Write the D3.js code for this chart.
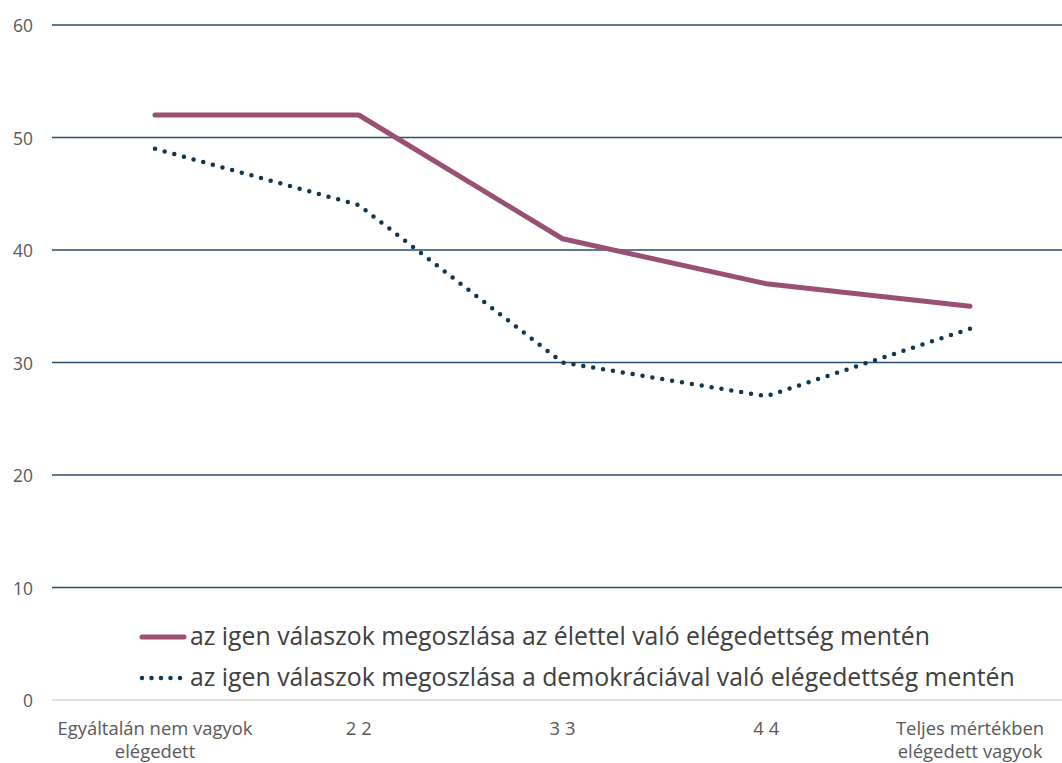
<!DOCTYPE html>
<html>
<head>
<meta charset="utf-8">
<script src="https://cdn.jsdelivr.net/npm/d3@7"></script>
<style>
  body { margin: 0; background: #fff; }
  svg { display: block; }
</style>
</head>
<body>
<svg id="chart"></svg>
<script>
const categories = ['Egyáltalán nem vagyok|elégedett', '2 2', '3 3', '4 4', 'Teljes mértékben|elégedett vagyok']
const lifeValues = [52, 52, 41, 37, 35]
const democracyValues = [49, 44, 30, 27, 33]
const seriesNames = [
    'az igen válaszok megoszlása az élettel való elégedettség mentén',
    'az igen válaszok megoszlása a demokráciával való elégedettség mentén'
]
const yTicks = [0, 10, 20, 30, 40, 50, 60]

const width = 1062
const height = 763

const svg = d3.select('#chart')
    .attr('width', width)
    .attr('height', height)

const x = d3.scalePoint()
    .domain(categories)
    .range([155, 970])

const y = d3.scaleLinear()
    .domain([0, 60])
    .range([700, 25])

// grid lines
svg.append('g')
    .selectAll('line')
    .data(yTicks)
    .enter()
    .append('line')
    .attr('x1', 52)
    .attr('x2', width)
    .attr('y1', d => y(d))
    .attr('y2', d => y(d))
    .attr('stroke', d => d === 0 ? '#d9d9d9' : '#2b4d6b')
    .attr('stroke-width', d => d === 0 ? 1.5 : 1.6)

// y tick labels
svg.append('g')
    .selectAll('text')
    .data(yTicks)
    .enter()
    .append('text')
    .attr('transform', d => 'translate(33,' + (y(d) + 7) + ') scale(0.92,1)')
    .attr('text-anchor', 'end')
    .attr('font-family', 'Open Sans')
    .attr('font-size', 19)
    .attr('fill', '#595959')
    .text(d => d)

// x labels
const xl = svg.append('g')
    .selectAll('text')
    .data(categories)
    .enter()
    .append('text')
    .attr('transform', d => 'translate(' + x(d) + ',0) scale(0.97,1)')
    .attr('text-anchor', 'middle')
    .attr('font-family', 'Open Sans')
    .attr('font-size', 19)
    .attr('fill', '#595959')
xl.selectAll('tspan')
    .data(d => d.split('|'))
    .enter()
    .append('tspan')
    .attr('x', 0)
    .attr('y', (d, i) => 735 + i * 23)
    .text(d => d)

const line = d3.line()
    .x((d, i) => x(categories[i]))
    .y(d => y(d))

svg.append('path')
    .datum(democracyValues)
    .attr('d', line)
    .attr('fill', 'none')
    .attr('stroke', '#0f3654')
    .attr('stroke-width', 4.5)
    .attr('stroke-linecap', 'round')
    .attr('stroke-dasharray', '0 10')

svg.append('path')
    .datum(lifeValues)
    .attr('d', line)
    .attr('fill', 'none')
    .attr('stroke', '#985174')
    .attr('stroke-width', 5)
    .attr('stroke-linecap', 'round')
    .attr('stroke-linejoin', 'round')

// legend
const legend = svg.append('g')
const legendY = [637, 678]
legend.append('line')
    .attr('x1', 142).attr('x2', 184)
    .attr('y1', legendY[0]).attr('y2', legendY[0])
    .attr('stroke', '#985174')
    .attr('stroke-width', 5)
    .attr('stroke-linecap', 'round')
legend.append('line')
    .attr('x1', 142).attr('x2', 184)
    .attr('y1', legendY[1]).attr('y2', legendY[1])
    .attr('stroke', '#0f3654')
    .attr('stroke-width', 4.5)
    .attr('stroke-linecap', 'round')
    .attr('stroke-dasharray', '0 9.5')
legend.selectAll('text')
    .data(seriesNames)
    .enter()
    .append('text')
    .attr('x', 190)
    .attr('y', (d, i) => legendY[i] + 8)
    .attr('font-family', 'Open Sans')
    .attr('font-size', 24.8)
    .attr('fill', '#404040')
    .text(d => d)
</script>
</body>
</html>
